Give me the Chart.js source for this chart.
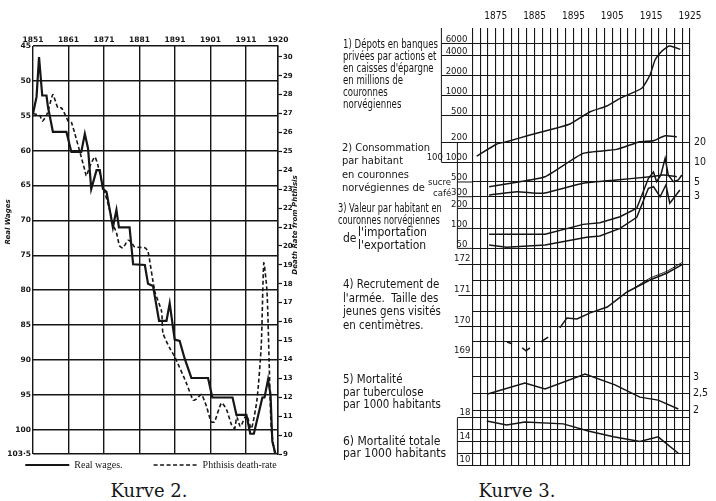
<!DOCTYPE html>
<html>
<head>
<meta charset="utf-8">
<script src="https://cdn.jsdelivr.net/npm/chart.js@4.4.0/dist/chart.umd.min.js"></script>
<style>
  html, body { margin: 0; padding: 0; background: #fff; }
  body { width: 716px; height: 501px; position: relative; overflow: hidden; color: #161616;
         font-family: 'DejaVu Sans Condensed', 'Liberation Sans Narrow', 'Liberation Sans', sans-serif; }
  canvas { position: absolute; }
  #kurve2 { left: 0; top: 0; }
  #kurve3 { left: 420px; top: 0; }
  .cap { position: absolute; top: 480px; width: 120px; text-align: center;
         font-family: 'DejaVu Serif', 'Liberation Serif', serif; font-size: 18px; }
  .note { position: absolute; white-space: nowrap; font-size: 11px; line-height: 12px; transform-origin: 0 0; }
  .small { font-size: 9.5px; line-height: 10px; }
</style>
</head>
<body>
<canvas id="kurve2" width="302" height="480"></canvas>
<canvas id="kurve3" width="296" height="466"></canvas>

<div class="cap" style="left:89px">Kurve 2.</div>
<div class="cap" style="left:457px">Kurve 3.</div>

<div class="note" style="left:343px; top:38px; line-height:12px; font-size:11.5px; transform:scaleX(0.83)">1) Dépots en banques<br>privées par actions et<br>en caisses d'épargne<br>en millions de<br>couronnes<br>norvégiennes</div>
<div class="note" style="left:342px; top:141px; line-height:13.3px">2) Consommation<br>par habitant<br>en couronnes<br>norvégiennes de</div>
<div class="note small" style="left:428px; top:177px">sucre</div>
<div class="note small" style="left:433px; top:188px">café</div>
<div class="note" style="left:338px; top:202px; font-size:11.5px; transform:scaleX(0.8)">3) Valeur par habitant en<br>couronnes norvégiennes</div>
<div class="note" style="left:343px; top:232px; font-size:12px">de</div>
<div class="note" style="left:358px; top:226px; line-height:13px; font-size:12px">l'importation<br>l'exportation</div>
<div class="note" style="left:343px; top:278px; font-size:12px; line-height:13.5px; transform:scaleX(0.95)">4) Recrutement de<br>l'armée.&nbsp; Taille des<br>jeunes gens visités<br>en centimètres.</div>
<div class="note" style="left:343px; top:373px; font-size:12px; line-height:12.6px; transform:scaleX(0.95)">5) Mortalité<br>par tuberculose<br>par 1000 habitants</div>
<div class="note" style="left:343px; top:436px; font-size:12px; line-height:11.5px">6) Mortalité totale<br>par 1000 habitants</div>

<script>
// ---------- Kurve 2 : real wages (inverted) vs phthisis death-rate ----------
const wageYears = [1851.0, 1852.0, 1852.7, 1853.6, 1854.8, 1855.2, 1856.6, 1860.4, 1861.8, 1864.6,
  1865.6, 1866.5, 1867.4, 1868.9, 1869.8, 1870.7, 1871.7, 1873.5, 1874.5, 1875.2,
  1878.2, 1879.2, 1882.5, 1883.4, 1884.8, 1886.5, 1888.6, 1889.5, 1890.9, 1892.3,
  1893.7, 1895.6, 1900.3, 1901.5, 1907.2, 1908.3, 1911.1, 1912.2, 1913.2, 1914.9,
  1915.6, 1916.2, 1917.2, 1917.9, 1918.4, 1919.3];
const wageValues = [54.7, 52.3, 46.6, 52.1, 52.1, 53.7, 57.3, 57.3, 60.2, 60.2,
  57.6, 59.7, 65.5, 62.8, 62.8, 65.5, 65.9, 71.0, 68.5, 71.0,
  71.0, 76.3, 76.4, 79.1, 79.4, 84.4, 84.4, 81.9, 87.1, 87.3,
  89.8, 92.6, 92.6, 95.4, 95.4, 97.9, 97.9, 100.6, 100.6, 96.9,
  95.4, 95.4, 92.8, 95.0, 101.7, 103.5];

const phthisisYears = [1851.0, 1852.9, 1853.6, 1854.8, 1855.5, 1856.6, 1858.0, 1859.0, 1860.4, 1860.9,
  1861.8, 1865.6, 1866.0, 1867.0, 1868.4, 1869.3, 1870.3, 1872.6, 1873.5, 1874.5,
  1875.4, 1876.3, 1877.8, 1878.7, 1879.6, 1882.5, 1883.4, 1885.3, 1887.2, 1887.6,
  1889.5, 1890.9, 1894.2, 1896.1, 1897.0, 1898.4, 1899.8, 1901.2, 1902.1, 1904.1,
  1905.5, 1906.9, 1907.8, 1908.4, 1909.4, 1911.1, 1912.5, 1914.1, 1915.3, 1916.0,
  1916.9, 1917.5, 1918.1, 1919.1];
const phthisisValues = [27.0, 26.9, 26.6, 26.9, 27.3, 28.0, 27.3, 27.3, 26.8, 26.6,
  26.55, 24.0, 23.7, 24.2, 24.7, 24.25, 23.45, 21.9, 21.15, 20.7,
  20.0, 19.9, 20.3, 20.2, 19.95, 19.9, 19.7, 17.6, 16.55, 15.4,
  14.6, 14.15, 12.75, 11.85, 11.9, 12.15, 11.55, 10.7, 10.7, 11.7,
  11.35, 10.55, 10.35, 10.95, 10.45, 11.05, 10.35, 11.9, 14.8, 19.1,
  17.6, 13.9, 10.35, 9.0];

const k2YearTicks = [1851, 1861, 1871, 1881, 1891, 1901, 1911, 1920];
const wageTicks = [45, 50, 55, 60, 65, 70, 75, 80, 85, 90, 95, 100, 103.5];
const wageTickLabels = ['45', '50', '55', '60', '65', '70', '75', '80', '85', '90', '95', '100', '103·5'];
const deathTicks = [9, 10, 11, 12, 13, 14, 15, 16, 17, 18, 19, 20, 21, 22, 23, 24, 25, 26, 27, 28, 29, 30];

// ---------- Kurve 3 : Norwegian series, six panels ----------
const k3YearLabels = [1875, 1885, 1895, 1905, 1915, 1925];
const k3GridYears = [];
for (let y = 1869; y <= 1925; y += 2) k3GridYears.push(y);

// 1) deposits, millions of crowns
const depositYears = [1870.1, 1875.3, 1877.8, 1883.8, 1890.7, 1894.1, 1899.3, 1903.6, 1907.0, 1912.6,
  1914.7, 1916.0, 1917.3, 1919.0, 1919.9, 1922.5];
const depositValues = [123, 187, 202, 255, 325, 373, 572, 697, 910, 1290,
  2040, 3440, 4390, 5330, 5580, 4980];

// 2) consumption per head, crowns (right-hand labels 3..20)
const sugarYears = [1873.3, 1881.2, 1887.7, 1897.5, 1906.1, 1912.1, 1915.6, 1918.6, 1921.6];
const sugarValues = [4.25, 5.05, 6.0, 13.5, 15.5, 20.2, 20.9, 24.9, 24.0];
const coffeeYears = [1873.3, 1880.5, 1887.3, 1897.5, 1906.1, 1914.7, 1918.1, 1921.6];
const coffeeValues = [3.18, 3.57, 3.38, 4.78, 5.36, 6.0, 6.37, 6.0];

// 3) import / export per head, crowns (labels 50..200)
const importYears = [1873.3, 1887.7, 1897.5, 1901.8, 1907.0, 1911.3, 1914.3, 1915.6, 1916.4, 1917.5,
  1918.6, 1919.4, 1920.7, 1922.0, 1922.9];
const importValues = [81.5, 81.5, 115, 122, 150, 201, 569, 706, 505, 637,
  1137, 637, 505, 536, 637];
const exportYears = [1873.3, 1877.8, 1887.7, 1898.4, 1901.8, 1907.0, 1911.3, 1914.3, 1915.6, 1917.3,
  1918.8, 1919.8, 1922.4];
const exportValues = [56.2, 51.9, 56.2, 73.5, 77, 100, 147, 402, 425, 300,
  451, 239, 379];

// 4) height of conscripts, cm (null = break in the line)
const heightYears = [1877.9, 1879.2, 1880.5, 1881.8, 1882.8, 1883.8, 1885.2, 1886.6, 1888.5, 1890.0,
  1891.5, 1893.3, 1895.9, 1899.3, 1903.7, 1908.8, 1914.7, 1919.1, 1923.2];
const heightValues = [169.49, 169.43, null, 169.30, 169.20, 169.30, null, 169.49, 169.65, null,
  169.95, 170.27, 170.24, 170.44, 170.63, 171.12, 171.51, 171.74, 172.03];
const height2Years = [1910.5, 1914.7, 1919.1, 1923.2];
const height2Values = [171.24, 171.57, 171.80, 172.10];

// 5) tuberculosis deaths per 1000
const tuberYears = [1872.7, 1882.5, 1887.7, 1898.0, 1905.7, 1912.1, 1916.8, 1922.0];
const tuberValues = [2.48, 2.82, 2.64, 3.09, 2.76, 2.39, 2.30, 2.03];

// 6) total deaths per 1000
const totalYears = [1872.7, 1877.8, 1882.5, 1892.4, 1898.8, 1905.3, 1912.1, 1916.8, 1922.0];
const totalValues = [17.5, 16.8, 17.3, 17.0, 15.8, 14.8, 14.0, 14.8, 12.0];

// tick positions and labels of the panels
const abcTicks = [5, 10, 20, 30, 50, 100, 200, 500, 1000, 2000, 4000, 6000];
const abcTickLabels = ['50', '100', '200', '300', '500', '100 1000', '200', '500', '1000', '2000', '4000', '6000'];
const innerTicks = [5, 10, 20, 30, 50];       // short ticks of panels 2 and 3
const consRightTicks = [30, 50, 100, 200];
const consRightLabels = ['3', '5', '10', '20'];
const heightTicks = [169, 169.5, 170, 170.5, 171, 171.5, 172];
const heightTickLabels = ['169', '', '170', '', '171', '', '172'];
const tuberTicks = [2, 2.5, 3];
const tuberTickLabels = ['2', '2,5', '3'];
const totalTicks = [10, 12, 14, 16, 18];
const totalTickLabels = ['10', '', '14', '', '18'];

// panels 1-3 share one log scale: consumption crowns x10, trade crowns /10
const consumptionToAxis = 10;
const tradeToAxis = 0.1;

const INK = '#161616';
const HAND = "'DejaVu Sans Condensed', 'Liberation Sans Narrow', sans-serif";

function pts(xs, ys, k) {
  return xs.map((x, i) => ({ x: x, y: ys[i] === null ? null : ys[i] * (k || 1) }));
}
function setTicks(list) {
  return scale => { scale.ticks = list.map(v => ({ value: v })); };
}
function labelFrom(values, labels) {
  return v => { const i = values.indexOf(v); return i < 0 ? '' : labels[i]; };
}
// fixed axis size, and no extra room for labels overhanging the ends
function fixWidth(w) {
  return s => { s.width = w; s.paddingTop = 0; s.paddingBottom = 0; };
}
function fixHeight(h) {
  return s => { s.height = h; s.paddingLeft = 0; s.paddingRight = 0; };
}

const sideTitles = {
  id: 'sideTitles',
  afterDraw(chart, args, opts) {
    const ctx = chart.ctx;
    ctx.save();
    ctx.fillStyle = INK;
    ctx.font = opts.font;
    ctx.textAlign = 'center';
    ctx.textBaseline = 'middle';
    opts.items.forEach(t => {
      ctx.save();
      ctx.translate(t.x, t.y);
      ctx.rotate(-Math.PI / 2);
      ctx.fillText(t.text, 0, 0);
      ctx.restore();
    });
    ctx.restore();
  }
};

// the ruled label columns left of the Kurve 3 grid
const labelFrames = {
  id: 'labelFrames',
  afterDraw(chart) {
    const ctx = chart.ctx, a = chart.chartArea, s = chart.scales;
    const yA = v => s.yABC.getPixelForValue(v);
    const yF = v => s.yF.getPixelForValue(v);
    ctx.save();
    ctx.strokeStyle = INK;
    ctx.lineWidth = 1;
    ctx.beginPath();
    ctx.moveTo(a.left - 31, a.top);
    ctx.lineTo(a.left - 31, yA(100));
    ctx.moveTo(a.left - 15, yA(200));
    ctx.lineTo(a.left - 15, yA(5));
    innerTicks.forEach(v => { ctx.moveTo(a.left - 15, yA(v)); ctx.lineTo(a.left, yA(v)); });
    ctx.moveTo(a.left - 15, yF(18));
    ctx.lineTo(a.left - 15, yF(10));
    ctx.stroke();
    ctx.restore();
  }
};

Chart.defaults.color = INK;
Chart.defaults.font.family = "'DejaVu Sans', sans-serif";

// Kurve 2
new Chart(document.getElementById('kurve2'), {
  type: 'line',
  data: {
    datasets: [{
      label: 'Real wages.',
      data: pts(wageYears, wageValues),
      yAxisID: 'wage',
      borderColor: INK,
      borderWidth: 2.2,
      pointRadius: 0,
      tension: 0
    }, {
      label: 'Phthisis death-rate',
      data: pts(phthisisYears, phthisisValues),
      yAxisID: 'death',
      borderColor: INK,
      borderWidth: 1.6,
      borderDash: [4, 2.5],
      pointRadius: 0,
      tension: 0.2
    }]
  },
  options: {
    responsive: false,
    animation: false,
    events: [],
    layout: { padding: 0 },
    plugins: {
      tooltip: { enabled: false },
      legend: {
        position: 'bottom',
        labels: {
          usePointStyle: true,
          pointStyle: 'line',
          pointStyleWidth: 44,
          boxHeight: 8,
          padding: 6,
          color: INK,
          font: { family: "'Liberation Serif', serif", size: 10 },
          generateLabels: chart => chart.data.datasets.map((ds, i) => ({
            text: i === 0 ? ds.label + '\u2003\u2003\u2002' : ds.label,
            datasetIndex: i,
            fillStyle: ds.borderColor,
            strokeStyle: ds.borderColor,
            lineWidth: ds.borderWidth,
            lineDash: ds.borderDash || [],
            pointStyle: 'line',
            hidden: false,
            fontColor: INK
          }))
        }
      },
      sideTitles: {
        font: "italic bold 7px 'DejaVu Sans'",
        items: [
          { text: 'Real Wages', x: 8, y: 222 },
          { text: 'Death Rate from Phthisis', x: 295, y: 225 }
        ]
      }
    },
    scales: {
      x: {
        type: 'linear',
        position: 'top',
        min: 1851,
        max: 1920,
        afterBuildTicks: setTicks(k2YearTicks),
        afterFit: fixHeight(46),
        ticks: { autoSkip: false, maxRotation: 0, padding: 1, callback: v => String(v),
                 font: { size: 7.5, weight: 'bold' } },
        grid: { color: INK, lineWidth: 1.4, drawTicks: false },
        border: { display: false }
      },
      wage: {
        type: 'linear',
        position: 'left',
        reverse: true,
        min: 45,
        max: 103.5,
        afterBuildTicks: setTicks(wageTicks),
        afterFit: fixWidth(33),
        ticks: { autoSkip: false, padding: 2, callback: labelFrom(wageTicks, wageTickLabels),
                 font: { size: 7.5, weight: 'bold' } },
        grid: { color: INK, lineWidth: 1.4, drawTicks: false },
        border: { display: false }
      },
      death: {
        type: 'linear',
        position: 'right',
        min: 9,
        max: 30.57,
        afterBuildTicks: setTicks(deathTicks),
        afterFit: fixWidth(24),
        ticks: { autoSkip: false, padding: 1, callback: v => String(v),
                 font: { size: 7, weight: 'bold' } },
        grid: { drawOnChartArea: false, drawTicks: true, tickLength: 4, tickColor: INK, tickWidth: 1.2 },
        border: { display: true, color: INK, width: 1.4 }
      }
    }
  },
  plugins: [sideTitles]
});

// Kurve 3
const line3 = { borderColor: INK, borderWidth: 1.5, pointRadius: 0, tension: 0.15, spanGaps: false };
const tickFont = { family: HAND, size: 9.5 };

new Chart(document.getElementById('kurve3'), {
  type: 'line',
  data: {
    datasets: [
      Object.assign({ label: 'Dépots', data: pts(depositYears, depositValues), yAxisID: 'yABC' }, line3),
      Object.assign({ label: 'sucre', data: pts(sugarYears, sugarValues, consumptionToAxis), yAxisID: 'yABC' }, line3),
      Object.assign({ label: 'café', data: pts(coffeeYears, coffeeValues, consumptionToAxis), yAxisID: 'yABC' }, line3),
      Object.assign({ label: "l'importation", data: pts(importYears, importValues, tradeToAxis), yAxisID: 'yABC' }, line3, { tension: 0 }),
      Object.assign({ label: "l'exportation", data: pts(exportYears, exportValues, tradeToAxis), yAxisID: 'yABC' }, line3, { tension: 0 }),
      Object.assign({ label: 'Taille', data: pts(heightYears, heightValues), yAxisID: 'yD' }, line3, { tension: 0 }),
      Object.assign({ label: 'Taille (2)', data: pts(height2Years, height2Values), yAxisID: 'yD' }, line3, { borderWidth: 1 }),
      Object.assign({ label: 'Tuberculose', data: pts(tuberYears, tuberValues), yAxisID: 'yE' }, line3, { tension: 0 }),
      Object.assign({ label: 'Mortalité totale', data: pts(totalYears, totalValues), yAxisID: 'yF' }, line3, { tension: 0 })
    ]
  },
  options: {
    responsive: false,
    animation: false,
    events: [],
    layout: { padding: { bottom: 1 } },
    plugins: { legend: { display: false }, tooltip: { enabled: false } },
    scales: {
      x: {
        type: 'linear',
        position: 'top',
        min: 1869,
        max: 1925,
        afterBuildTicks: setTicks(k3GridYears),
        afterFit: fixHeight(28),
        ticks: { autoSkip: false, maxRotation: 0, padding: 6, font: { family: HAND, size: 10 },
                 callback: v => k3YearLabels.includes(v) ? String(v) : '' },
        grid: { color: INK, lineWidth: 1.1, drawTicks: false },
        border: { display: false }
      },
      yABC: {
        type: 'logarithmic', position: 'left', stack: 'left3', stackWeight: 228, weight: 4,
        min: 3.84, max: 10430,
        afterBuildTicks: setTicks(abcTicks),
        afterFit: fixWidth(52.4),
        ticks: { autoSkip: false, padding: -26, labelOffset: -4, font: tickFont,
                 callback: labelFrom(abcTicks, abcTickLabels) },
        grid: { color: INK, lineWidth: 1, drawTicks: true, tickLength: 31,
                tickColor: c => (c.tick && c.tick.value < 100 ? 'rgba(0,0,0,0)' : INK) },
        border: { display: false }
      },
      yD: {
        type: 'linear', position: 'left', stack: 'left3', stackWeight: 110, weight: 3,
        min: 168.707, max: 172.293,
        afterBuildTicks: setTicks(heightTicks),
        afterFit: fixWidth(52.4),
        ticks: { autoSkip: false, padding: -12, labelOffset: -6, font: tickFont,
                 callback: labelFrom(heightTicks, heightTickLabels) },
        grid: { color: INK, lineWidth: 1, drawTicks: true, tickLength: 14,
                tickColor: c => (c.tick && Number.isInteger(c.tick.value) ? INK : 'rgba(0,0,0,0)') },
        border: { display: false }
      },
      yE: {
        type: 'linear', position: 'left', stack: 'left3', stackWeight: 48, weight: 2,
        min: 1.879, max: 3.333,
        afterBuildTicks: setTicks(tuberTicks),
        afterFit: fixWidth(52.4),
        ticks: { display: false },
        grid: { color: INK, lineWidth: 1, drawTicks: false },
        border: { display: false }
      },
      yF: {
        type: 'linear', position: 'left', stack: 'left3', stackWeight: 51, weight: 1,
        min: 10, max: 18.68,
        afterBuildTicks: setTicks(totalTicks),
        afterFit: fixWidth(52.4),
        ticks: { autoSkip: false, padding: -13, labelOffset: -5, font: tickFont,
                 callback: labelFrom(totalTicks, totalTickLabels) },
        grid: { color: INK, lineWidth: 1, drawTicks: true, tickLength: 15, tickColor: INK },
        border: { display: false }
      },
      rABC: {
        type: 'logarithmic', position: 'right', stack: 'right3', stackWeight: 228, weight: 1,
        min: 3.84, max: 10430,
        afterBuildTicks: setTicks(consRightTicks),
        afterFit: fixWidth(26),
        ticks: { autoSkip: false, padding: 4, font: { family: HAND, size: 10.5 },
                 callback: labelFrom(consRightTicks, consRightLabels) },
        grid: { drawOnChartArea: false, drawTicks: false },
        border: { display: false }
      },
      rD: {
        type: 'linear', position: 'right', stack: 'right3', stackWeight: 110, weight: 2,
        afterFit: fixWidth(26),
        ticks: { display: false }, grid: { display: false }, border: { display: false }
      },
      rE: {
        type: 'linear', position: 'right', stack: 'right3', stackWeight: 48, weight: 3,
        min: 1.879, max: 3.333,
        afterBuildTicks: setTicks(tuberTicks),
        afterFit: fixWidth(26),
        ticks: { autoSkip: false, padding: 3, font: { family: HAND, size: 10.5 },
                 callback: labelFrom(tuberTicks, tuberTickLabels) },
        grid: { drawOnChartArea: false, drawTicks: false },
        border: { display: false }
      },
      rF: {
        type: 'linear', position: 'right', stack: 'right3', stackWeight: 51, weight: 4,
        afterFit: fixWidth(26),
        ticks: { display: false }, grid: { display: false }, border: { display: false }
      }
    }
  },
  plugins: [labelFrames]
});
</script>
</body>
</html>
